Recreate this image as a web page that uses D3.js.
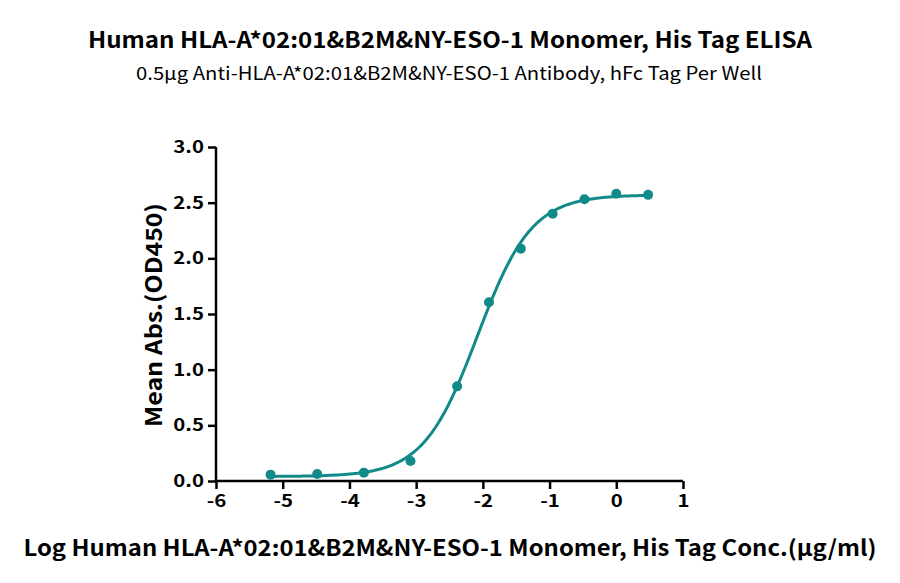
<!DOCTYPE html>
<html>
<head>
<meta charset="utf-8">
<script src="https://cdn.jsdelivr.net/npm/d3@7"></script>
<style>
  body { margin: 0; background: #fff; }
  text { font-family: "Noto Sans CJK SC", "Noto Sans", sans-serif; }
</style>
</head>
<body>
<svg id="chart" width="900" height="583"></svg>
<script>
// log concentration (µg/ml) and mean OD450
const logConc = [-5.182, -4.483, -3.784, -3.085, -2.386, -1.908, -1.431, -0.954, -0.477, 0, 0.477];
const meanAbs = [0.057, 0.063, 0.075, 0.18, 0.85, 1.605, 2.087, 2.40, 2.53, 2.58, 2.57];
const xTicks = [-6, -5, -4, -3, -2, -1, 0, 1];
const yTicks = [0, 0.5, 1.0, 1.5, 2.0, 2.5, 3.0];
// 4PL fit parameters
const fitBottom = 0.04, fitTop = 2.57, fitLogEC50 = -2.08, fitHill = 1.07;

const color = "#138a8a";
const svg = d3.select("#chart");
const margin = { left: 216, right: 217, top: 147, bottom: 102 };
const W = 900, H = 583;

const x = d3.scaleLinear().domain([-6, 1]).range([margin.left, W - margin.right]);
const y = d3.scaleLinear().domain([0, 3]).range([H - margin.bottom, margin.top]);

// title + subtitle
svg.append("text")
  .attr("x", 450).attr("y", 48)
  .attr("text-anchor", "middle")
  .attr("font-size", 22).attr("font-weight", "bold")
  .attr("textLength", 724).attr("lengthAdjust", "spacingAndGlyphs")
  .text("Human HLA-A*02:01&B2M&NY-ESO-1 Monomer, His Tag ELISA");
svg.append("text")
  .attr("x", 449).attr("y", 80)
  .attr("text-anchor", "middle")
  .attr("font-size", 18)
  .attr("textLength", 626).attr("lengthAdjust", "spacingAndGlyphs")
  .text("0.5μg Anti-HLA-A*02:01&B2M&NY-ESO-1 Antibody, hFc Tag Per Well");

// axes (hyphen minus like the original)
const xAxis = svg.append("g")
  .attr("transform", `translate(0,${y(0)})`)
  .call(d3.axisBottom(x).tickValues(xTicks).tickSize(8).tickPadding(6).tickFormat((d) => String(d)));
const yAxis = svg.append("g")
  .attr("transform", `translate(${x(-6)},0)`)
  .call(d3.axisLeft(y).tickValues(yTicks).tickSize(8).tickPadding(4).tickFormat((d) => d.toFixed(1)));

[xAxis, yAxis].forEach((g) => {
  g.select(".domain").attr("stroke", "#000").attr("stroke-width", 2.5);
  g.selectAll(".tick line").attr("stroke", "#000").attr("stroke-width", 2.5);
  g.selectAll(".tick text")
    .attr("fill", "#000")
    .style("font-family", "'Noto Sans CJK SC', 'Noto Sans', sans-serif")
    .style("font-size", "17px")
    .style("font-weight", "bold")
    .each(function () {
      // original labels are a bit wider than this face
      const w = this.getComputedTextLength();
      d3.select(this).attr("textLength", w * 1.2).attr("lengthAdjust", "spacingAndGlyphs");
    });
});
xAxis.select(".domain").attr("d", `M${x(-6)},0H${x(1)}`);
yAxis.select(".domain").attr("d", `M0,${y(3)}V${y(0)}`);

// axis titles
svg.append("text")
  .attr("transform", `translate(162,${(y(0) + y(3)) / 2 + 1}) rotate(-90)`)
  .attr("text-anchor", "middle")
  .attr("font-size", 22).attr("font-weight", "bold")
  .attr("textLength", 224).attr("lengthAdjust", "spacingAndGlyphs")
  .text("Mean Abs.(OD450)");
svg.append("text")
  .attr("x", 450).attr("y", 556)
  .attr("text-anchor", "middle")
  .attr("font-size", 22).attr("font-weight", "bold")
  .attr("textLength", 853).attr("lengthAdjust", "spacingAndGlyphs")
  .text("Log Human HLA-A*02:01&B2M&NY-ESO-1 Monomer, His Tag Conc.(μg/ml)");

// fitted curve
const fourPL = (v) => fitBottom + (fitTop - fitBottom) / (1 + Math.pow(10, (fitLogEC50 - v) * fitHill));
const curveX = d3.range(logConc[0], logConc[logConc.length - 1] + 0.001, 0.02);
svg.append("path")
  .datum(curveX)
  .attr("fill", "none")
  .attr("stroke", color)
  .attr("stroke-width", 3)
  .attr("d", d3.line().x((d) => x(d)).y((d) => y(fourPL(d))));

// data points
svg.append("g")
  .selectAll("circle")
  .data(logConc)
  .join("circle")
  .attr("cx", (d) => x(d))
  .attr("cy", (d, i) => y(meanAbs[i]))
  .attr("r", 5)
  .attr("fill", color);
</script>
</body>
</html>
